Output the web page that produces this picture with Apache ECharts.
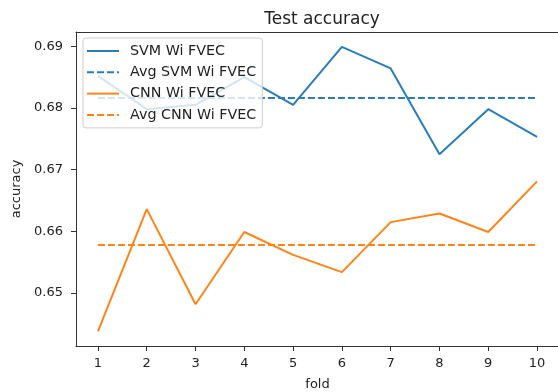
<!DOCTYPE html>
<html lang="en">
<head>
    <meta charset="UTF-8">
    <title>Test accuracy</title>
    <script src="https://cdn.jsdelivr.net/npm/echarts@6/dist/echarts.min.js"></script>
    <style>
        html, body { margin: 0; padding: 0; background: #fff; }
    </style>
</head>
<body>
<div id="box" style="width: 558px;height: 392px;"></div>
<script>
    var folds = [1, 2, 3, 4, 5, 6, 7, 8, 9, 10];
    var svmAcc = [0.6852, 0.6798, 0.6805, 0.6850, 0.6805, 0.6899, 0.6864, 0.6725, 0.6798, 0.6753];
    var cnnAcc = [0.6438, 0.6636, 0.6482, 0.6599, 0.6562, 0.6534, 0.6615, 0.6629, 0.6599, 0.6681];
    var svmAvg = 0.6816;
    var cnnAvg = 0.6578;
    var yTicks = [0.65, 0.66, 0.67, 0.68, 0.69];

    var blue = '#2a7dba';
    var orange = '#ff8418';
    var font = 'DejaVu Sans';

    function pairs(vals) {
        return folds.map(function (f, i) { return [f, vals[i]]; });
    }
    function flat(v) {
        return folds.map(function (f) { return [f, v]; });
    }

    var myChart = echarts.init(document.getElementById('box'));
    var option = {
        animation: false,
        title: {
            text: 'Test accuracy',
            left: 317,
            textAlign: 'center',
            top: 6,
            textStyle: { fontFamily: font, fontSize: 17, fontWeight: 'normal', color: '#222' }
        },
        legend: {
            orient: 'vertical',
            left: 83,
            top: 38,
            padding: [6, 6, 6, 3],
            itemWidth: 32,
            itemHeight: 14,
            itemGap: 7.3,
            backgroundColor: 'rgba(255,255,255,0.8)',
            borderColor: '#cccccc',
            borderWidth: 1,
            borderRadius: 3,
            itemStyle: { opacity: 0 },
            textStyle: { fontFamily: font, fontSize: 14.3, color: '#222', padding: [0, 0, 0, 6] },
            data: ['SVM Wi FVEC', 'Avg SVM Wi FVEC', 'CNN Wi FVEC', 'Avg CNN Wi FVEC']
        },
        grid: {
            left: 76,
            top: 32,
            right: -1,
            bottom: 46,
            outerBoundsMode: 'none'
        },
        xAxis: [
            {
                type: 'value',
                min: 0.55,
                max: 10.45,
                name: 'fold',
                nameLocation: 'middle',
                nameGap: 32,
                nameTextStyle: { fontFamily: font, fontSize: 13, color: '#222' },
                splitLine: { show: false },
                axisLine: { lineStyle: { color: '#333', width: 1 } },
                axisTick: { customValues: folds, length: 5, lineStyle: { color: '#333' } },
                axisLabel: { customValues: folds, fontFamily: font, fontSize: 13, color: '#222', margin: 11 }
            },
            {
                // top spine only
                type: 'value',
                position: 'top',
                min: 0,
                max: 1,
                splitLine: { show: false },
                axisLine: { show: true, lineStyle: { color: '#333', width: 1 } },
                axisTick: { show: false },
                axisLabel: { show: false }
            }
        ],
        yAxis: {
            type: 'value',
            min: 0.64143,
            max: 0.6923,
            name: 'accuracy',
            nameLocation: 'middle',
            nameGap: 51,
            nameTextStyle: { fontFamily: font, fontSize: 13, color: '#222' },
            splitLine: { show: false },
            axisLine: { show: true, lineStyle: { color: '#333', width: 1 } },
            axisTick: { show: true, customValues: yTicks, length: 5, lineStyle: { color: '#333' } },
            axisLabel: {
                customValues: yTicks,
                fontFamily: font, fontSize: 13, color: '#222', margin: 13,
                formatter: function (v) { return v.toFixed(2); }
            }
        },
        series: [
            {
                name: 'SVM Wi FVEC', type: 'line', data: pairs(svmAcc), symbol: 'none',
                lineStyle: { color: blue, width: 2 }, itemStyle: { color: blue }
            },
            {
                name: 'Avg SVM Wi FVEC', type: 'line', data: flat(svmAvg), symbol: 'none',
                lineStyle: { color: blue, width: 2, type: [7, 3] }, itemStyle: { color: blue }
            },
            {
                name: 'CNN Wi FVEC', type: 'line', data: pairs(cnnAcc), symbol: 'none',
                lineStyle: { color: orange, width: 2 }, itemStyle: { color: orange }
            },
            {
                name: 'Avg CNN Wi FVEC', type: 'line', data: flat(cnnAvg), symbol: 'none',
                lineStyle: { color: orange, width: 2, type: [7, 3] }, itemStyle: { color: orange }
            }
        ]
    };
    myChart.setOption(option);
</script>
</body>
</html>
